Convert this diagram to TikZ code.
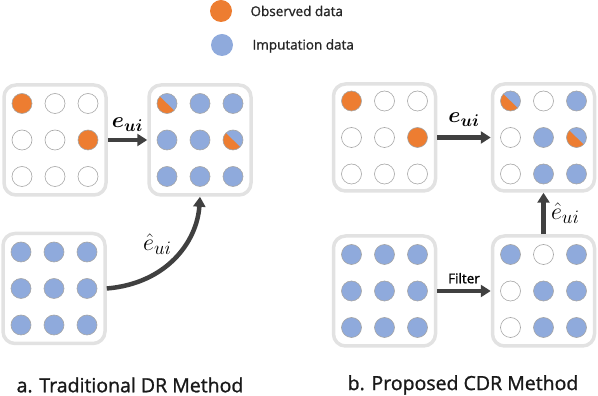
\RequirePackage{fix-cm}
\documentclass[tikz,border=0pt]{standalone}
\usepackage{amsmath}
\usepackage{amssymb}
\usepackage{bm}
\usepackage{fontspec}
\setmainfont{Open Sans}
\newfontfamily\heavyfont{Open Sans}[FakeBold=1.2]
\usetikzlibrary{arrows.meta, positioning}

\DeclareMathSizes{22}{22}{17}{13}
\DeclareMathSizes{24}{24}{19}{14}

\definecolor{obsorange}{HTML}{ED7D31}
\definecolor{impblue}{HTML}{8FAADC}
\definecolor{framegray}{HTML}{E2E2E2}
\definecolor{ringgray}{HTML}{A6A6A6}
\definecolor{arrowgray}{HTML}{404040}

% 3x3 grid of entries inside a panel: o = observed, e = empty, b = imputed, h = both
\newcommand{\dotgrid}[2]{%
  \foreach \kind [count=\k from 0] in {#2} {
    \pgfmathtruncatemacro{\col}{mod(\k,3)}
    \pgfmathtruncatemacro{\row}{div(\k,3)}
    \node[cell, kind-\kind] (#1-\k) at ([shift={(\col*33-33,36.5-\row*36.5)}]#1.center) {};
  }%
}

\begin{document}
\begin{tikzpicture}[
    x=1pt, y=1pt,
    % Styles
    panel/.style={
        rectangle,
        draw=framegray,
        line width=3.5pt,
        rounded corners=12pt,
        minimum width=102pt,
        minimum height=110pt
    },
    cell/.style={
        circle,
        draw=ringgray,
        line width=0.6pt,
        minimum size=20pt,
        inner sep=0pt
    },
    kind-o/.style={fill=obsorange},
    kind-e/.style={fill=white},
    kind-b/.style={fill=impblue},
    kind-h/.style={
        fill=impblue,
        path picture={\fill[obsorange] (path picture bounding box.center)
            ++(136:16) -- ++(-44:32) -- ++(-134:32) -- cycle;}
    },
    key/.style={
        circle,
        minimum size=22pt,
        inner sep=0pt
    },
    keytext/.style={
        font=\heavyfont\fontsize{13.5}{16}\selectfont,
        text=black!85,
        anchor=west
    },
    edge/.style={
        -{Triangle[length=10pt, width=12pt]},
        draw=arrowgray,
        line width=4.5pt
    },
    edgelabel/.style={
        font=\fontsize{22}{24}\selectfont
    },
    hatlabel/.style={
        font=\fontsize{24}{26}\selectfont
    },
    caption/.style={
        font=\heavyfont\fontsize{19.5}{22}\selectfont,
        text=black!90
    }
]

\useasboundingbox (0,0) rectangle (598,396);

% Legend
\node[key, fill=obsorange] (key-obs) at (221,385) {};
\node[keytext] (key-obs-text) at (247,385) {Observed data};
\node[key, fill=impblue] (key-imp) at (222,351) {};
\node[keytext] (key-imp-text) at (249,350) {Imputation data};

% a. Traditional DR
\node[panel] (dr-obs) at (55,256) {};
\dotgrid{dr-obs}{o,e,e,e,e,o,e,e,e}
\node[panel] (dr-full) at (200,256) {};
\dotgrid{dr-full}{h,b,b,b,b,h,b,b,b}
\node[panel] (dr-imp) at (54,107.5) {};
\dotgrid{dr-imp}{b,b,b,b,b,b,b,b,b}

\draw[edge] (dr-obs.east) -- (dr-full.west)
    node[midway, above=3pt, edgelabel] {$\bm{e_{ui}}$};
\draw[edge] (dr-imp.east) .. controls +(60,5) and +(-3,-45) .. (dr-full.south)
    node[pos=0.5, anchor=south east, inner sep=1pt, hatlabel] {$\hat{e}_{ui}$};

\node[caption] (cap-dr) at (130,11) {a. Traditional DR Method};

% b. Proposed CDR
\node[panel, minimum height=107pt] (cdr-obs) at (384.5,258.5) {};
\dotgrid{cdr-obs}{o,e,e,e,e,o,e,e,e}
\node[panel, minimum height=107pt] (cdr-full) at (543.5,258.5) {};
\dotgrid{cdr-full}{h,e,b,e,b,h,e,b,b}
\node[panel] (cdr-imp) at (384.5,105) {};
\dotgrid{cdr-imp}{b,b,b,b,b,b,b,b,b}
\node[panel] (cdr-filt) at (543.5,105) {};
\dotgrid{cdr-filt}{b,e,b,e,b,b,e,b,b}

\draw[edge] (cdr-obs.east) -- (cdr-full.west)
    node[midway, above=5pt, edgelabel] {$\bm{e_{ui}}$};
\draw[edge] (cdr-imp.east) -- (cdr-filt.west)
    node[midway, above=2pt, font=\heavyfont\fontsize{13.5}{16}\selectfont] {Filter};
\draw[edge] (cdr-filt.north) -- (cdr-full.south)
    node[midway, right=2pt, hatlabel] {$\hat{e}_{ui}$};

\node[caption] (cap-cdr) at (463,11) {b. Proposed CDR Method};

\end{tikzpicture}
\end{document}
